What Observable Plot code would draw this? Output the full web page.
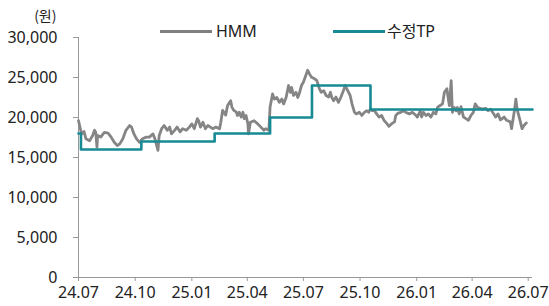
<!DOCTYPE html>
<html>
<head>
<meta charset="utf-8">
<script src="https://cdn.jsdelivr.net/npm/d3@7"></script>
<script src="https://cdn.jsdelivr.net/npm/@observablehq/plot@0.6"></script>
<style>
  html, body { margin: 0; padding: 0; background: #fff; }
  #wrap { position: relative; width: 549px; height: 306px; font-family: 'Noto Sans', 'Noto Sans CJK KR', sans-serif; color: #222; }
  .lg { position: absolute; font-size: 16px; line-height: 20px; }
  .sw { position: absolute; height: 3px; }
</style>
</head>
<body>
<div id="wrap">
  <div class="sw" style="left:160px; top:30px; width:52px; background:#808080;"></div>
  <div class="lg" style="left:216px; top:21px;">HMM</div>
  <div class="sw" style="left:333px; top:30px; width:52px; background:#178a94;"></div>
  <div class="lg" style="left:387px; top:21px;">수정TP</div>
</div>
<script>
const seriesNames = ["HMM", "수정TP"];
const unitLabel = "(원)";

const hmmDates = [
"2024-07-01","2024-07-04","2024-07-06","2024-07-10","2024-07-13","2024-07-19","2024-07-24","2024-07-27","2024-07-29","2024-07-31",
"2024-08-01","2024-08-06","2024-08-12","2024-08-18","2024-08-23","2024-08-28","2024-09-02","2024-09-06","2024-09-11","2024-09-16",
"2024-09-22","2024-09-25","2024-09-29","2024-10-03","2024-10-08","2024-10-13","2024-10-19","2024-10-24","2024-10-30","2024-11-02",
"2024-11-07","2024-11-09","2024-11-13","2024-11-17","2024-11-22","2024-11-26","2024-11-29","2024-12-04","2024-12-08","2024-12-13",
"2024-12-17","2024-12-23","2024-12-28","2025-01-01","2025-01-05","2025-01-10","2025-01-12","2025-01-15","2025-01-19","2025-01-23",
"2025-01-27","2025-01-31","2025-02-04","2025-02-09","2025-02-15","2025-02-17","2025-02-20","2025-02-23","2025-02-25","2025-02-28",
"2025-03-05","2025-03-07","2025-03-10","2025-03-14","2025-03-16","2025-03-19","2025-03-22","2025-03-25","2025-03-27","2025-03-30",
"2025-04-02","2025-04-03","2025-04-06","2025-04-12","2025-04-18","2025-04-23","2025-04-28","2025-05-01","2025-05-06","2025-05-08",
"2025-05-12","2025-05-15","2025-05-19","2025-05-23","2025-05-27","2025-05-30","2025-06-03","2025-06-07","2025-06-10","2025-06-12",
"2025-06-15","2025-06-19","2025-06-22","2025-06-24","2025-06-28","2025-07-01","2025-07-05","2025-07-08","2025-07-11","2025-07-14",
"2025-07-19","2025-07-23","2025-07-27","2025-07-30","2025-08-03","2025-08-07","2025-08-11","2025-08-14","2025-08-16","2025-08-19",
"2025-08-23","2025-08-27","2025-08-31","2025-09-04","2025-09-07","2025-09-11","2025-09-15","2025-09-18","2025-09-22","2025-09-25",
"2025-09-30","2025-10-04","2025-10-08","2025-10-12","2025-10-15","2025-10-18","2025-10-21","2025-10-24","2025-10-28","2025-11-01",
"2025-11-05","2025-11-09","2025-11-14","2025-11-17","2025-11-21","2025-11-26","2025-11-28","2025-12-02","2025-12-06","2025-12-11",
"2025-12-14","2025-12-20","2025-12-25","2025-12-31","2026-01-02","2026-01-07","2026-01-09","2026-01-12","2026-01-16","2026-01-20",
"2026-01-24","2026-01-28","2026-02-01","2026-02-04","2026-02-08","2026-02-12","2026-02-15","2026-02-19","2026-02-21","2026-02-23",
"2026-02-26","2026-02-28","2026-03-03","2026-03-06","2026-03-08","2026-03-11","2026-03-14","2026-03-18","2026-03-22","2026-03-26",
"2026-03-30","2026-04-03","2026-04-06","2026-04-10","2026-04-14","2026-04-17","2026-04-23","2026-04-27","2026-05-01","2026-05-06",
"2026-05-09","2026-05-13","2026-05-17","2026-05-23","2026-05-27","2026-06-02","2026-06-04","2026-06-07","2026-06-09","2026-06-11",
"2026-06-13","2026-06-17","2026-06-21","2026-06-24","2026-06-28"
];
const hmmValues = [
19600,18600,17950,18250,17350,17100,17750,18400,18150,16300,
17750,17550,18150,18050,17550,16900,16500,16700,17350,18400,
19000,18800,17950,17350,16900,17350,17550,17550,17950,17350,
15900,17750,18600,19000,18400,18800,17950,18400,18800,18200,
18600,18400,18800,19200,18600,19850,19600,18800,19400,18600,
19000,18800,18600,18800,18600,19400,20900,20500,20300,21500,
22100,21300,20900,20700,20250,20650,20050,20650,19850,20250,
19200,17950,19400,19600,19200,18800,18400,18600,18400,21300,
22950,22300,22500,21900,22300,21700,22500,24000,23150,23750,
22750,23150,22500,22900,24000,24400,25250,25900,25450,25050,
24850,24600,23600,23150,23350,22750,22550,23150,22550,22100,
22550,21900,22550,23350,24000,23350,22750,21700,20650,20450,
20650,20250,20650,20850,20650,21100,20850,20900,20450,20050,
20250,19650,19200,18900,19200,19450,20250,20550,20650,20850,
20650,20450,20650,20250,20050,20850,20050,20650,20250,20450,
20050,20650,20450,21300,21500,21700,23150,23600,22500,21500,
24600,20650,21250,20850,21250,20450,21350,20050,19850,19650,
20250,20650,21700,21250,21150,21050,21150,20850,21050,20450,
20050,20450,19700,20050,19650,19450,18600,20050,21050,22300,
21050,19850,18600,19000,19300
];

const tpDates = ["2024-07-01","2024-07-05","2024-10-11","2025-02-07","2025-05-08","2025-07-15","2025-10-18","2026-07-08"];
const tpValues = [18000,16000,17000,18000,20000,24000,21000,21000];

const xTicks = ["2024-07-01","2024-10-01","2025-01-01","2025-04-01","2025-07-01","2025-10-01","2026-01-01","2026-04-01","2026-07-01"];
const yTicks = [0,5000,10000,15000,20000,25000,30000];

const hmm = hmmDates.map((d, i) => ({date: new Date(d), value: hmmValues[i]}));
const tp = tpDates.map((d, i) => ({date: new Date(d), value: tpValues[i]}));
const xStart = new Date("2024-07-01");
const xEnd = new Date("2026-07-08");

const chart = Plot.plot({
  width: 549,
  height: 306,
  marginLeft: 78,
  marginRight: 17,
  marginTop: 37,
  marginBottom: 29,
  style: {fontFamily: "'Noto Sans', 'Noto Sans CJK KR', sans-serif", fontSize: "16px", color: "#222", background: "transparent"},
  x: {type: "utc", domain: [xStart, xEnd]},
  y: {domain: [0, 30000]},
  marks: [
    Plot.axisX(xTicks.map(d => new Date(d)), {tickSize: 4, tickPadding: 5, stroke: "#999", tickFormat: d3.utcFormat("%y.%m"), label: null}),
    Plot.axisY(yTicks, {tickSize: 5, tickPadding: 16, stroke: "#999", tickFormat: d3.format(","), label: null}),
    Plot.ruleY([0], {stroke: "#999"}),
    Plot.ruleX([xStart], {stroke: "#999"}),
    Plot.line(hmm, {x: "date", y: "value", stroke: "#858585", strokeWidth: 2.8}),
    Plot.line(tp, {x: "date", y: "value", stroke: "#178a94", strokeWidth: 2.6, curve: "step-after"}),
    Plot.text([unitLabel], {frameAnchor: "top-left", dx: -22, dy: -26, textAnchor: "end", fill: "#222", fontSize: 14, fontFamily: "'Noto Sans CJK KR', sans-serif"})
  ]
});
chart.style.position = "absolute";
chart.style.left = "0";
chart.style.top = "0";
document.getElementById("wrap").prepend(chart);
</script>
</body>
</html>
